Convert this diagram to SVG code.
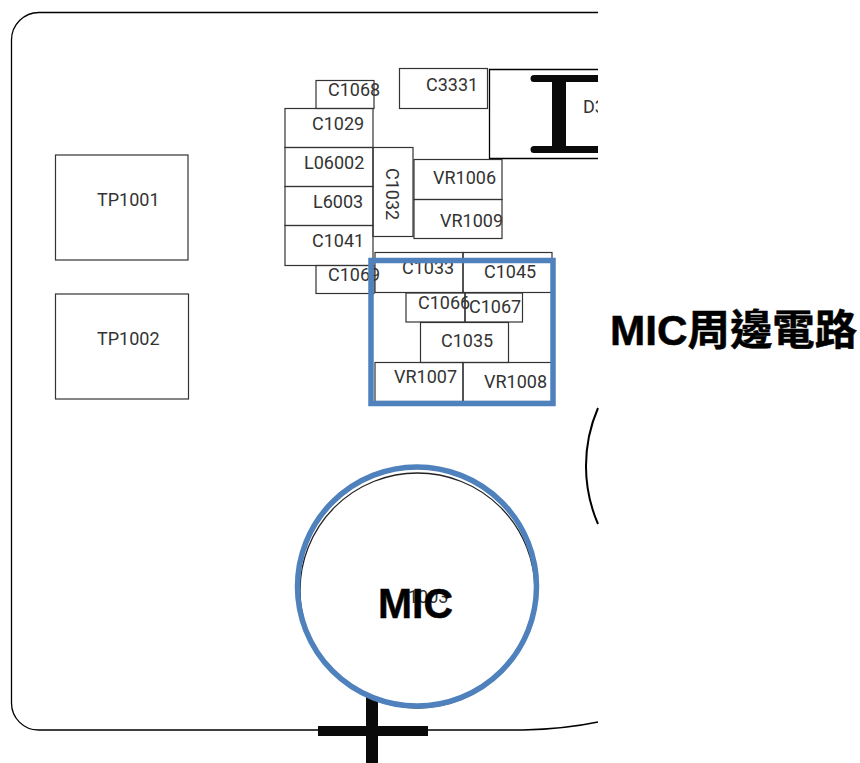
<svg xmlns="http://www.w3.org/2000/svg" width="860" height="763" viewBox="0 0 860 763">
<style>
.o{fill:none;stroke:#000;stroke-width:1.3}
.b{fill:none;stroke:#333;stroke-width:1.2}
.k{fill:#0a0a0a}
.t{font-family:Roboto,"Liberation Sans",sans-serif;font-size:18px;fill:#333}
.h{font-family:"Liberation Sans","Noto Sans CJK TC",sans-serif;font-weight:700;fill:#000;stroke:#000;stroke-width:.5}
.hl{fill:none;stroke:#4f81bd;stroke-width:5.5}
</style>
<defs><clipPath id="cut"><rect x="0" y="0" width="598" height="763"/></clipPath></defs>
<rect width="860" height="763" fill="#fff"/>
<g id="connectors">
<path id="outline" class="o" d="M598 12.500H39A27.500 27.500 0 0 0 11.500 40V703A27 27 0 0 0 38.500 730H523Q565 729 598 722"/>
<path id="edge-arc" class="o" style="stroke-width:2" d="M598 408A146 146 0 0 0 598 524"/>
</g>
<g id="TP1001"><rect class="b" x="55.500" y="155" width="132.500" height="105"/><text class="t" x="97" y="205.500">TP1001</text></g>
<g id="TP1002"><rect class="b" x="55.500" y="294" width="133" height="105"/><text class="t" x="97" y="344.500">TP1002</text></g>
<g id="C1068"><rect class="b" x="316" y="80.500" width="58" height="28"/><text class="t" x="328" y="96">C1068</text></g>
<g id="C3331"><rect class="b" x="399.500" y="68.500" width="88" height="40"/><text class="t" x="426" y="91">C3331</text></g>
<g id="D3">
<path class="o" d="M598 69.500H489.500V158.500H598"/>
<path class="k" d="M534 75H598V82H566V146H598V153H534A3.500 3.500 0 0 1 534 146H552V82H534A3.500 3.500 0 0 1 534 75Z"/>
<text class="t" x="583" y="113" clip-path="url(#cut)">D3</text>
</g>
<g id="C1029"><rect class="b" x="285" y="108.500" width="88" height="39"/><text class="t" x="312" y="129.500">C1029</text></g>
<g id="L06002"><rect class="b" x="285" y="147.500" width="88" height="39"/><text class="t" x="304" y="168.500">L06002</text></g>
<g id="L6003"><rect class="b" x="285" y="186.500" width="88" height="39"/><text class="t" x="313" y="207.500">L6003</text></g>
<g id="C1041"><rect class="b" x="285" y="225.500" width="88" height="40"/><text class="t" x="312" y="246.500">C1041</text></g>
<g id="C1032"><rect class="b" x="373" y="147.500" width="40" height="89"/><text class="t" transform="rotate(90 386 168)" x="386" y="168">C1032</text></g>
<g id="VR1006"><rect class="b" x="414" y="159.500" width="88" height="40"/><text class="t" x="433" y="183.500">VR1006</text></g>
<g id="VR1009"><rect class="b" x="414" y="199.500" width="88" height="39"/><text class="t" x="440" y="226.500">VR1009</text></g>
<g id="C1069"><rect class="b" x="316" y="265.500" width="58" height="28"/><text class="t" x="328" y="281">C1069</text></g>
<g id="C1033"><rect class="b" x="375" y="252.500" width="88" height="40"/><text class="t" x="402" y="274">C1033</text></g>
<g id="C1045"><rect class="b" x="463" y="252.500" width="89" height="40"/><text class="t" x="484" y="278">C1045</text></g>
<g id="C1066"><rect class="b" x="406" y="293" width="59" height="29"/><text class="t" x="418" y="309">C1066</text></g>
<g id="C1067"><rect class="b" x="465" y="293" width="57.500" height="29"/><text class="t" x="469" y="312.500">C1067</text></g>
<g id="C1035"><rect class="b" x="420.500" y="322.500" width="88" height="40"/><text class="t" x="441" y="347">C1035</text></g>
<g id="VR1007"><rect class="b" x="375" y="362.500" width="88" height="39"/><text class="t" x="394" y="383">VR1007</text></g>
<g id="VR1008"><rect class="b" x="463" y="362.500" width="89" height="39"/><text class="t" x="484" y="387.500">VR1008</text></g>
<g id="MIC-group"><rect class="hl" x="371" y="260.500" width="182" height="143"/><text class="h" x="610" y="345" font-size="42" textLength="247" lengthAdjust="spacingAndGlyphs">MIC周邊電路</text></g>
<g id="cross"><rect class="k" x="366" y="695" width="12" height="68"/><rect class="k" x="318" y="726" width="110" height="10"/></g>
<g id="MIC">
<circle cx="417.500" cy="590.500" r="117.500" fill="#fff" stroke="#222" stroke-width="1.300"/>
<circle class="hl" cx="417" cy="586.500" r="119.500"/>
<text class="t" x="408" y="603">1003</text>
<text class="h" x="378" y="618" font-size="43" textLength="75" lengthAdjust="spacingAndGlyphs">MIC</text>
</g>
</svg>
